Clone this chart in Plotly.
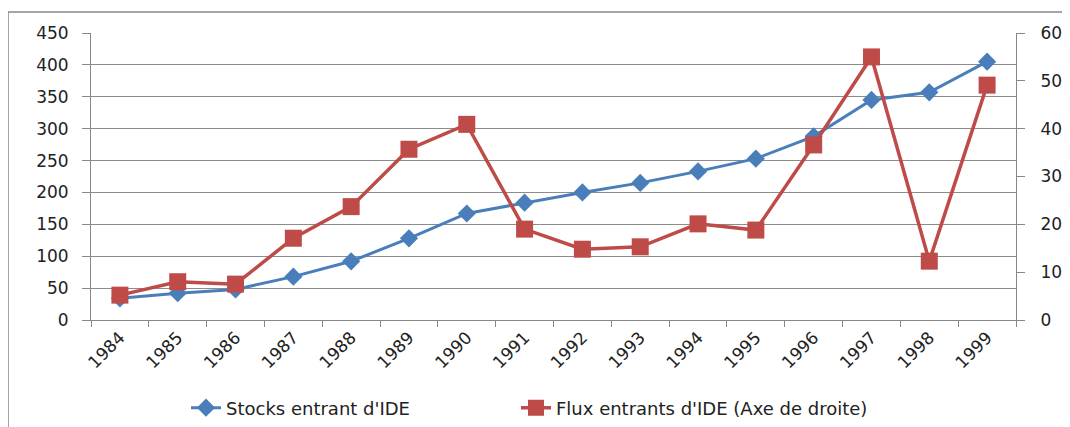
import plotly.graph_objects as go

years = [str(y) for y in range(1984, 2000)]
stocks = [34, 42, 48, 68, 92, 128, 167, 184, 200, 215, 233, 253, 288, 345, 357, 405]
flux = [5.2, 8.0, 7.5, 17.1, 23.7, 35.7, 40.9, 19.0, 14.8, 15.3, 20.1, 18.8, 36.6, 55.0, 12.3, 49.1]

OFF = 8  # page body margin
W, H = 1070 - OFF, 427 - OFF
L, R, T, B = 91 - OFF, 1016 - OFF, 33 - OFF, 320 - OFF

def px(x):
    return (x - OFF - L) / (R - L)

def py(y):
    return (B - (y - OFF)) / (B - T)

fig = go.Figure()
fig.add_trace(go.Scatter(
    x=years, y=stocks, name="Stocks entrant d'IDE", mode="lines+markers",
    line=dict(color="#4A7EBB", width=3),
    marker=dict(symbol="diamond", size=14, color="#4A7EBB"),
    yaxis="y", legend="legend"))
fig.add_trace(go.Scatter(
    x=years, y=flux, name="Flux entrants d'IDE (Axe de droite)", mode="lines+markers",
    line=dict(color="#BE4B48", width=3.5),
    marker=dict(symbol="square", size=17, color="#BE4B48"),
    yaxis="y2", legend="legend2"))

font = "DejaVu Sans, sans-serif"
leg_font = dict(size=18, color="#222")
fig.update_layout(
    width=W, height=H,
    margin=dict(l=L, r=W - R, t=T, b=H - B, autoexpand=False),
    paper_bgcolor="white", plot_bgcolor="white",
    font=dict(family=font, size=17, color="#222"),
    showlegend=True,
    legend=dict(x=px(186), xanchor="left", y=py(408), yanchor="middle", font=leg_font),
    legend2=dict(x=px(516), xanchor="left", y=py(408), yanchor="middle", font=leg_font),
    xaxis=dict(type="category", tickangle=-45, tickson="boundaries", ticks="outside",
               ticklen=6, tickcolor="#888", showline=True, linecolor="#888", linewidth=1,
               showgrid=False, tickfont=dict(size=17), range=[-0.5, 15.5], automargin=False),
    yaxis=dict(range=[0, 450], dtick=50, ticks="outside", ticklen=8, tickcolor="#888",
               showline=True, linecolor="#888", showgrid=True, gridcolor="#8c8c8c",
               gridwidth=1, zeroline=False, tickfont=dict(size=17), automargin=False,
               ticklabelstandoff=10),
    yaxis2=dict(range=[0, 60], dtick=10, overlaying="y", side="right", ticks="outside",
                ticklen=8, tickcolor="#888", showline=True, linecolor="#888",
                showgrid=False, zeroline=False, tickfont=dict(size=17), automargin=False,
                ticklabelstandoff=12),
    shapes=[dict(type="rect", xref="paper", yref="paper",
                 x0=px(8), x1=px(1080), y0=py(440), y1=py(12),
                 line=dict(color="#888", width=1.5), fillcolor="rgba(0,0,0,0)",
                 layer="below")],
)
fig.write_html("out.html")
